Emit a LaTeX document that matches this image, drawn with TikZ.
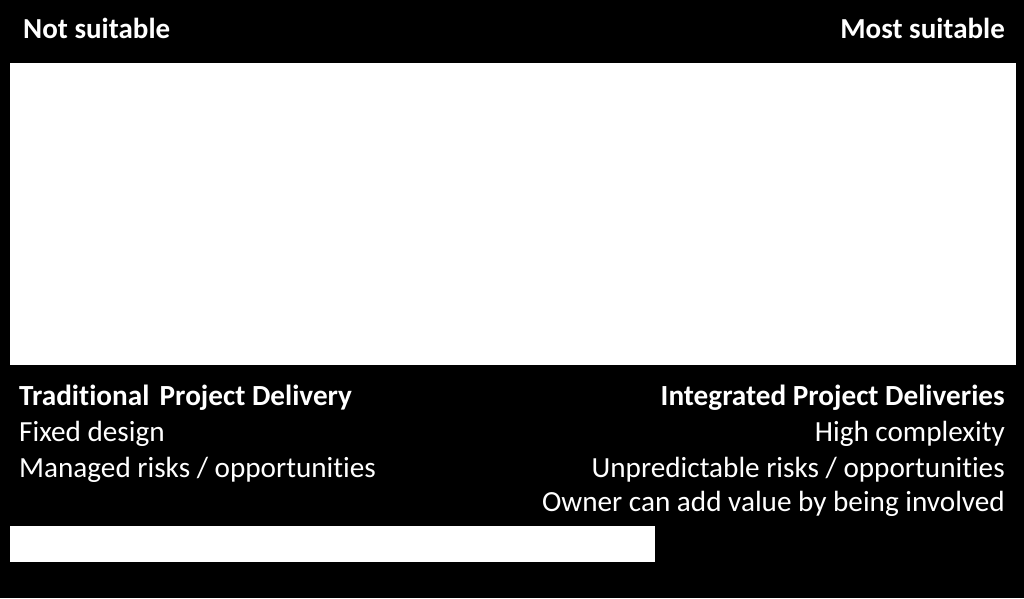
\documentclass[tikz,border=0pt]{standalone}
\usepackage{fontspec}
\setmainfont{Carlito}[Ligatures=NoCommon]
\usetikzlibrary{positioning}

\begin{document}
\begin{tikzpicture}[
    x=1pt, y=-1pt,
    head/.style={font=\fontsize{29}{34}\selectfont\bfseries, text=white, inner sep=0pt},
    title/.style={font=\fontsize{29.2}{34}\selectfont\bfseries, text=white, inner sep=0pt},
    item/.style={font=\fontsize{29.2}{34}\selectfont, text=white, inner sep=0pt},
    panel/.style={rectangle, fill=white, draw=none, inner sep=0pt, anchor=north west}
]

% Background
\fill[black] (0,0) rectangle (1024,598);
\useasboundingbox (0,0) rectangle (1024,598);

% Scale ends
\node[head, anchor=base west] (notsuit) at (23,38) {Not suitable};
\node[head, anchor=base east] (mostsuit) at (1005,38) {Most suitable};

% Scale panel
\node[panel, minimum width=1006pt, minimum height=302pt] (scale) at (10,63) {};

% Traditional side
\node[title, anchor=base west] (trad) at (19,405) {Traditional\hspace{0.35em}Project Delivery};
\node[item, anchor=base west] (fixed) at (19,441) {Fixed design};
\node[item, anchor=base west] (managed) at (19,477) {Managed risks / opportunities};

% Integrated side
\node[title, anchor=base east] (integ) at (1005,405) {Integrated Project Deliveries};
\node[item, anchor=base east] (complex) at (1005,441) {High complexity};
\node[item, anchor=base east] (unpred) at (1005,477) {Unpredictable risks / opportunities};
\node[item, anchor=base east] (owner) at (1005,511) {Owner can add value by being involved};

% Bottom bar
\node[panel, minimum width=645pt, minimum height=36pt] (bar) at (10,526) {};

\end{tikzpicture}
\end{document}
